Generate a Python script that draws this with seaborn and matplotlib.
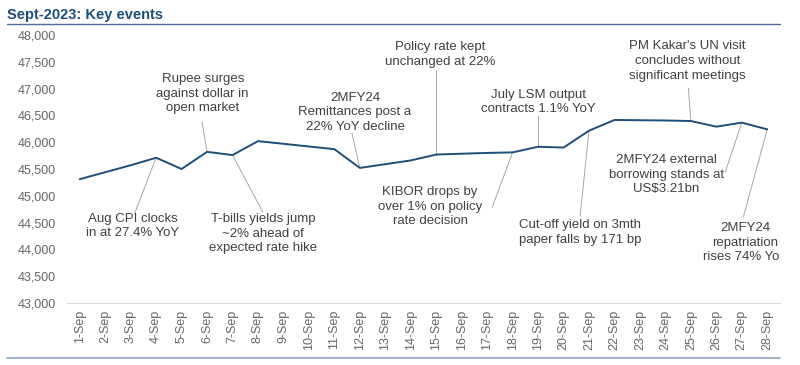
import pandas as pd
import matplotlib.pyplot as plt
import seaborn as sns
from matplotlib.ticker import FuncFormatter, FixedLocator

days = [f"{d}-Sep" for d in range(1, 29)]
valores = [45310, 45440, 45570, 45710, 45500, 45820, 45760, 46020, 45970, 45920,
           45870, 45520, 45590, 45660, 45770, 45785, 45800, 45810, 45915, 45900,
           46215, 46415, 46410, 46405, 46395, 46290, 46365, 46240]

# texto, dia del punto, posicion del texto (x, y), final de la linea guia (x, y)
eventos = [
    ("Aug CPI clocks\nin at 27.4% YoY", 3, 2.08, 44436, 2.16, 44678),
    ("Rupee surges\nagainst dollar in\nopen market", 5, 4.83, 46908, 4.80, 46377),
    ("T-bills yields jump\n~2% ahead of\nexpected rate hike", 6, 7.19, 44296, 7.19, 44697),
    ("2MFY24\nRemittances post a\n22% YoY decline", 11, 10.81, 46563, 10.69, 46171),
    ("Policy rate kept\nunchanged at 22%", 14, 14.15, 47636, 14.0, 47347),
    ("KIBOR drops by\nover 1% on policy\nrate decision", 17, 13.76, 44800, 16.2, 44790),
    ("July LSM output\ncontracts 1.1% YoY", 18, 18.0, 46750, 18.0, 46489),
    ("Cut-off yield on 3mth\npaper falls by 171 bp", 20, 19.65, 44315, 19.65, 44622),
    ("PM Kakar's UN visit\nconcludes without\nsignificant meetings", 24, 23.86, 47515, 23.9, 47011),
    ("2MFY24 external\nborrowing stands at\nUS$3.21bn", 26, 23.03, 45397, 25.35, 45444),
    ("2MFY24\nrepatriation\nrises 74% YoY", 27, 26.14, 44128, 26.06, 44604),
]

if __name__ == "__main__":
    sns.set_style("white")
    plt.rcParams['font.family'] = ['Liberation Sans', 'DejaVu Sans']

    df = pd.DataFrame({'dia': days, 'valor': valores})
    fig = plt.figure(figsize=(8, 3.65), dpi=100)
    ax = fig.add_axes([67 / 800, 1 - 303 / 365, (780 - 67) / 800, (303 - 35) / 365])
    sns.lineplot(data=df, x='dia', y='valor', sort=False, color='#1F4E79', linewidth=1.4, ax=ax)

    gris = '#404040'
    for texto, i, tx, ty, lx, ly in eventos:
        ax.plot([i, lx], [valores[i], ly], color='#a6a6a6', linewidth=0.7, zorder=1)
        ax.text(tx, ty, texto, ha='center', va='center', fontsize=9.5, color=gris,
                linespacing=1.28, clip_on=True)

    ax.set_xlim(-0.5, 27.5)
    ax.set_ylim(43000, 48000)
    ax.set_yticks(range(43000, 48001, 500))
    ax.yaxis.set_major_formatter(FuncFormatter(lambda v, p: f"{int(v):,}"))
    ax.set_xlabel('')
    ax.set_ylabel('')
    for s in ['top', 'right', 'left']:
        ax.spines[s].set_visible(False)
    ax.spines['bottom'].set_color('#d9d9d9')
    ax.tick_params(axis='y', length=0, pad=8, labelsize=9, labelcolor='#666666')
    ax.tick_params(axis='x', which='major', length=0, pad=5, labelsize=9, labelcolor='#666666', rotation=90)
    ax.xaxis.set_minor_locator(FixedLocator([i + 0.5 for i in range(-1, 28)]))
    ax.tick_params(axis='x', which='minor', length=4, color='#d9d9d9', width=0.8)

    fig.text(7 / 800, 1 - 15 / 365, "Sept-2023: Key events", fontsize=10.5, fontweight='bold',
             color='#1F4E79', va='center', ha='left')
    fig.add_artist(plt.Line2D([7 / 800, 780 / 800], [1 - 24 / 365] * 2, color='#4a6d9a', linewidth=1))
    fig.add_artist(plt.Line2D([7 / 800, 780 / 800], [1 - 358 / 365] * 2, color='#8ea5c4', linewidth=1.2))

    plt.savefig("out.png", dpi=100)
    plt.close()
